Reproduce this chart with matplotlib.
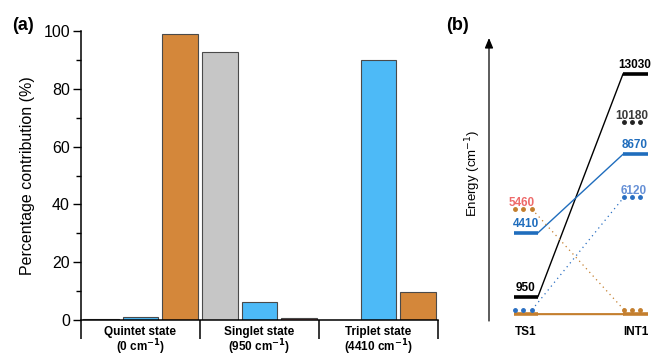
import matplotlib
matplotlib.use("Agg")
import matplotlib.pyplot as plt
import matplotlib.transforms as mtransforms
import numpy as np

plt.rcParams['font.family'] = ['Liberation Sans', 'DejaVu Sans']

# ---------------- data (a) ----------------
group_names = ["Quintet state", "Singlet state", "Triplet state"]
group_energies = ["(0 cm$^{\\mathbf{-1}}$)", "(950 cm$^{\\mathbf{-1}}$)", "(4410 cm$^{\\mathbf{-1}}$)"]
bar_values = [0.3, 1.0, 98.8, 92.8, 6.2, 0.7, 0.0, 89.9, 9.8]
bar_colors = ["#1a1a1a", "#4dbaf7", "#d4873a", "#c6c6c6", "#4dbaf7", "#c97d7d", "#4dbaf7", "#4dbaf7", "#d4873a"]
yticks = [0, 20, 40, 60, 80, 100]

# ---------------- data (b) ----------------
states = ["TS1", "INT1"]
singlet = [950, 13030]
triplet = [4410, 8670]
quintet = [0, 0]
dot_quintet = [5460, 0]
dot_triplet = [0, 6120]
dot_singlet_int1 = 10180

W, H = 651, 356
fig = plt.figure(figsize=(W / 100, H / 100), dpi=100)

def px_axes(x0, y0, x1, y1):
    return fig.add_axes([x0 / W, 1 - y1 / H, (x1 - x0) / W, (y1 - y0) / H])

# ================= panel (a) =================
ax = px_axes(81, 31, 438, 320)
x = np.arange(len(bar_values))
ax.bar(x, bar_values, width=0.9, color=bar_colors, edgecolor="#4a4a4a", linewidth=0.8, zorder=2)
ax.set_xlim(-0.5, 8.5)
ax.set_ylim(0, 100)
ax.set_yticks(yticks)
ax.set_yticks(np.arange(10, 100, 20), minor=True)
ax.tick_params(axis='y', which='major', length=6, width=1, labelsize=11.5, pad=2)
ax.tick_params(axis='y', which='minor', length=3.5, width=1)
for s in ["top", "right"]:
    ax.spines[s].set_visible(False)
for s in ["left", "bottom"]:
    ax.spines[s].set_linewidth(1.1)
ax.spines['left'].set_bounds(0, 100)
ax.set_xticks([-0.5, 2.5, 5.5, 8.5])
ax.set_xticklabels([])
ax.tick_params(axis='x', which='major', length=14, width=1.1, direction='out')
for i, (g, e) in enumerate(zip(group_names, group_energies)):
    xc = (81 + (3 * i + 1.5) * (438 - 81) / 9) / W
    fig.text(xc, 1 - 326 / H, g + "\n" + e, ha='center', va='top', fontsize=8.5,
             fontweight='bold', linespacing=0.95)
ax.set_ylabel("Percentage contribution (%)", fontsize=11.5, labelpad=6)
fig.text(12 / W, 1 - 25 / H, "(a)", fontsize=13, fontweight='bold', va='center', ha='left')

# ================= panel (b) =================
e_per_px = 1 / 0.01842
bx0, bx1 = 489, 651
by_top, by_bot = 38, 321
axb = px_axes(bx0, by_top, bx1, by_bot)
axb.set_xlim(0, bx1 - bx0)
axb.set_ylim((314 - by_bot) * e_per_px, (314 - by_top) * e_per_px)
axb.axis('off')

ts = (25, 49)
it = (134, 159)
lv_lw = 2.6
blue = "#1f6dbd"
orange = "#c47f2e"
dotblue = "#2a6fc2"

axb.annotate("", xy=(0, (314 - 38) * e_per_px), xytext=(0, (314 - 321) * e_per_px),
             arrowprops=dict(arrowstyle="-|>,head_width=0.25,head_length=0.6", color="black", lw=0.9,
                             shrinkA=0, shrinkB=0), clip_on=False)

axb.plot([ts[0], it[1]], quintet, color=orange, lw=1.3, solid_capstyle='butt')
for (e_ts, e_it), col in [(singlet, "black"), (triplet, blue), (quintet, orange)]:
    axb.plot(ts, [e_ts, e_ts], color=col, lw=lv_lw, solid_capstyle='butt', clip_on=False)
    axb.plot(it, [e_it, e_it], color=col, lw=lv_lw, solid_capstyle='butt', clip_on=False)
    axb.plot([ts[1], it[0]], [e_ts, e_it], color=col, lw=1.0, clip_on=False)

off = mtransforms.offset_copy(axb.transData, fig=fig, x=0, y=4.2, units='dots')
ts_dots = [26, 34, 43]
it_dots = [135, 143, 151]
def dots(xs, e, col):
    axb.plot(xs, [e] * 3, ls='none', marker='o', ms=2.5, color=col, transform=off, clip_on=False)

dots(ts_dots, dot_quintet[0], orange)
dots(it_dots, dot_quintet[1], orange)
dots(ts_dots, dot_triplet[0], dotblue)
dots(it_dots, dot_triplet[1], dotblue)
dots(it_dots, dot_singlet_int1, "#222222")
axb.plot([ts_dots[-1], it_dots[0]], dot_quintet, ls=(0, (1, 3)), color=orange, lw=0.9, transform=off)
axb.plot([ts_dots[-1], it_dots[0]], dot_triplet, ls=(0, (1, 3)), color=dotblue, lw=0.9, transform=off)

def lab(xp, e, s, col, bold=True, dy=0):
    axb.text(xp, e, s, color=col, fontsize=8.5, fontweight='bold' if bold else 'normal',
             ha='left', va='bottom',
             transform=mtransforms.offset_copy(axb.transData, fig=fig, x=0, y=3 + dy, units='dots'),
             clip_on=False)

lab(27, singlet[0], str(singlet[0]), "black")
lab(24, triplet[0], str(triplet[0]), blue)
lab(20, dot_quintet[0], str(dot_quintet[0]), "#ee6b6b", dy=1.5)
lab(129, singlet[1], str(singlet[1]), "black")
lab(126, dot_singlet_int1, str(dot_singlet_int1), "#3a3a3a", dy=1.5)
lab(133, triplet[1], str(triplet[1]), blue)
lab(132, dot_triplet[1], str(dot_triplet[1]), "#6690d6", dy=1.5)

for xc, s in zip([(ts[0] + ts[1]) / 2, (it[0] + it[1]) / 2], states):
    fig.text((bx0 + xc) / W, 1 - 332 / H, s, fontsize=8.5, fontweight='bold', ha='center', va='center')

fig.text(473 / W, 1 - 173 / H, "Energy (cm$^{-1}$)", fontsize=9.5, rotation=90, ha='center', va='center')
fig.text(446 / W, 1 - 25 / H, "(b)", fontsize=13, fontweight='bold', va='center', ha='left')

fig.savefig("out.png", dpi=100)
